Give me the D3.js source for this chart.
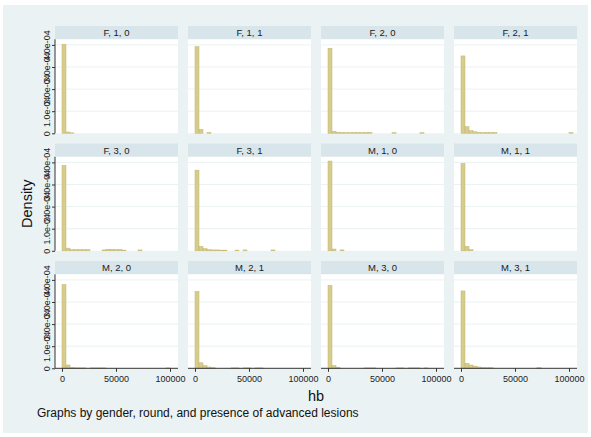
<!DOCTYPE html>
<html>
<head>
<meta charset="utf-8">
<script src="https://cdn.jsdelivr.net/npm/d3@7"></script>
<style>
  body { margin: 0; background: #fff; }
  text { font-family: "Liberation Sans", Arial, sans-serif; }
</style>
</head>
<body>
<svg id="chart"></svg>
<script>
// panel titles: gender, round, advanced lesions
var panelLabels = ["F, 1, 0", "F, 1, 1", "F, 2, 0", "F, 2, 1",
                   "F, 3, 0", "F, 3, 1", "M, 1, 0", "M, 1, 1",
                   "M, 2, 0", "M, 2, 1", "M, 3, 0", "M, 3, 1"];

// histogram bins of hb
var binStart = 0,
    binWidth = 3704;

// density per bin, in units of 1e-04
var f10 = [4.03,0.06,0.02,0,0,0,0,0,0,0,0,0,0,0,0,0,0,0,0,0,0,0,0,0,0,0,0,0];
var f11 = [3.92,0.18,0,0.04,0,0,0,0,0,0,0,0,0,0,0,0,0,0,0,0,0,0,0,0,0,0,0,0];
var f20 = [3.85,0.09,0.05,0.04,0.03,0.03,0.04,0.04,0.03,0.04,0.04,0,0,0,0,0,0.03,0,0,0,0,0,0,0.03,0,0,0,0];
var f21 = [3.5,0.3,0.12,0.07,0.04,0.03,0.04,0.04,0.04,0,0,0,0,0,0,0,0,0,0,0,0,0,0,0,0,0,0,0.03];
var f30 = [3.86,0.12,0.05,0.05,0.05,0.05,0.05,0,0,0,0.04,0.07,0.07,0.05,0.06,0.03,0,0,0,0.04,0,0,0,0,0,0,0,0];
var f31 = [3.65,0.2,0.1,0.05,0.04,0.04,0.03,0.03,0,0,0.03,0,0.04,0,0,0,0,0,0,0.04,0,0,0,0,0,0,0,0];
var m10 = [4.06,0.08,0,0.04,0,0,0,0,0,0,0,0,0,0,0,0,0,0,0,0,0,0,0,0,0,0,0,0];
var m11 = [3.95,0.2,0.05,0,0,0,0,0,0,0,0,0,0,0,0,0,0,0,0,0,0,0,0,0,0,0,0,0];
var m20 = [3.79,0.15,0.04,0.02,0.02,0.02,0,0.02,0.02,0.02,0.02,0,0,0,0,0,0,0,0,0,0,0,0,0,0,0,0.02,0];
var m21 = [3.48,0.25,0.12,0.06,0.03,0,0,0,0,0.02,0.02,0,0.02,0.02,0,0.02,0.02,0,0,0,0,0,0,0,0,0,0,0];
var m30 = [3.75,0.12,0.05,0,0,0,0,0,0,0.02,0.02,0.02,0,0,0,0,0,0.02,0.02,0,0.02,0.02,0.02,0,0.02,0,0,0];
var m31 = [3.5,0.23,0.15,0.1,0.06,0.04,0.03,0.03,0,0,0,0,0,0,0,0,0,0,0,0.03,0,0,0,0,0,0,0,0];
var densities = [f10, f11, f20, f21, f30, f31, m10, m11, m20, m21, m30, m31];

// axes
var xTicks = [0, 50000, 100000];
var yTicks = [0, 1, 2, 3, 4];
var yTickLabels = ["0", "1.0e-04", "2.0e-04", "3.0e-04", "4.0e-04"];

// layout
var width = 591, height = 437,
    cols = 4,
    marginLeft = 55, colStep = 133, panelW = 123,
    marginTop = 26, rowStep = 117.5, headH = 13.3, plotH = 94;

var svg = d3.select('#chart')
  .attr('width', width)
  .attr('height', height);

// graph region
svg.append('rect')
  .attr('x', 3).attr('y', 5)
  .attr('width', 585).attr('height', 428)
  .attr('fill', '#eaf2f3');

var x = d3.scaleLinear().domain([-6481, 107407]).range([0, panelW]);
var y = d3.scaleLinear().domain([0, 4.253]).range([plotH, 0]);

var nRows = Math.ceil(panelLabels.length / cols);

var panel = svg.selectAll('g.panel')
  .data(panelLabels)
  .enter().append('g')
    .attr('class', 'panel')
    .attr('transform', function(d, i){
      return 'translate(' + (marginLeft + (i % cols) * colStep) + ',' + (marginTop + Math.floor(i / cols) * rowStep) + ')';
    });

// subtitle box
panel.append('rect')
  .attr('width', panelW).attr('height', headH)
  .attr('fill', '#d8e5ea');
panel.append('text')
  .text(function(d){ return d; })
  .attr('x', panelW / 2)
  .attr('y', headH / 2 + 3.4)
  .attr('text-anchor', 'middle')
  .style('font-size', '9.5px')
  .style('fill', '#1a1a1a');

// plot region
var plot = panel.append('g')
  .attr('transform', 'translate(0,' + headH + ')');

plot.append('rect')
  .attr('width', panelW).attr('height', plotH)
  .attr('fill', '#fff');

plot.selectAll('line.grid')
  .data(yTicks.slice(1))
  .enter().append('line')
    .attr('class', 'grid')
    .attr('x1', 0).attr('x2', panelW)
    .attr('y1', function(d){ return y(d); })
    .attr('y2', function(d){ return y(d); })
    .attr('stroke', '#eaf2f3')
    .attr('stroke-width', 1);

// the bars
plot.each(function(label, i){
  var bins = densities[i].map(function(v, k){
    return {x0: binStart + k * binWidth, x1: binStart + (k + 1) * binWidth, v: v};
  }).filter(function(b){ return b.v > 0; });

  d3.select(this).selectAll('rect.bar')
    .data(bins)
    .enter().append('rect')
      .attr('class', 'bar')
      .attr('x', function(b){ return x(b.x0); })
      .attr('width', function(b){ return x(b.x1) - x(b.x0); })
      .attr('y', function(b){ return y(b.v); })
      .attr('height', function(b){ return plotH - y(b.v); })
      .attr('fill', '#d6cc8c')
      .attr('stroke', '#c3b66f')
      .attr('stroke-width', 0.5);
});

// y axis on the first column
plot.filter(function(d, i){ return i % cols === 0; }).each(function(){
  var g = d3.select(this);
  g.append('g')
    .call(d3.axisLeft(y).tickValues(yTicks).tickSize(3).tickFormat(function(d, k){ return yTickLabels[k]; }))
    .call(function(a){
      a.select('.domain').attr('stroke', '#333').attr('d', 'M0,' + plotH + 'V0');
      a.selectAll('.tick line').attr('stroke', '#333');
      a.selectAll('.tick text')
        .attr('x', null).attr('dy', null)
        .attr('text-anchor', 'middle')
        .attr('dominant-baseline', 'central')
        .attr('transform', 'translate(-8.5,0) rotate(-90)')
        .style('font-size', '9px')
        .style('font-family', '"Liberation Sans", Arial, sans-serif')
        .style('fill', '#222');
    });
});

// x axis on the bottom row
plot.filter(function(d, i){ return Math.floor(i / cols) === nRows - 1; }).each(function(){
  var g = d3.select(this);
  g.append('g')
    .attr('transform', 'translate(0,' + plotH + ')')
    .call(d3.axisBottom(x).tickValues(xTicks).tickSize(3.5).tickFormat(d3.format('d')))
    .call(function(a){
      a.select('.domain').attr('stroke', '#333').attr('d', 'M0,0H' + panelW);
      a.selectAll('.tick line').attr('stroke', '#333');
      a.selectAll('.tick text')
        .attr('y', 7)
        .style('font-size', '9px')
        .style('font-family', '"Liberation Sans", Arial, sans-serif')
        .style('fill', '#222');
    });
});

// titles
var plotsTop = marginTop + headH,
    plotsBottom = marginTop + (nRows - 1) * rowStep + headH + plotH;

svg.append('text')
  .text('Density')
  .attr('transform', 'translate(27,' + ((plotsTop + plotsBottom) / 2) + ') rotate(-90)')
  .attr('text-anchor', 'middle')
  .attr('dominant-baseline', 'central')
  .style('font-size', '14.5px')
  .style('fill', '#111');

svg.append('text')
  .text('hb')
  .attr('x', marginLeft + (cols * colStep - (colStep - panelW)) / 2)
  .attr('y', plotsBottom + 33)
  .attr('text-anchor', 'middle')
  .style('font-size', '14.5px')
  .style('fill', '#111');

svg.append('text')
  .text('Graphs by gender, round, and presence of advanced lesions')
  .attr('x', 37)
  .attr('y', plotsBottom + 49)
  .style('font-size', '12px')
  .style('fill', '#111');
</script>
</body>
</html>
